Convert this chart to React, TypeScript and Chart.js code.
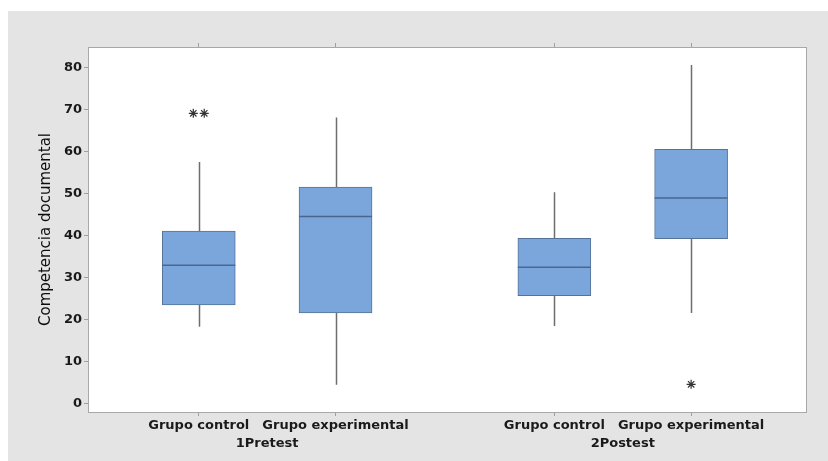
import React, { useEffect, useRef } from 'react';
import { Chart, registerables } from 'chart.js';

Chart.register(...registerables);

// ---- data ----
const categories = ['Grupo control', 'Grupo experimental', 'Grupo control', 'Grupo experimental'];
const groups = ['1Pretest', '2Postest'];
const groupOf = [0, 0, 1, 1];
const xPositions = [1, 2, 3.6, 4.6];
const whiskerLow = [18.3, 4.5, 18.5, 21.6];
const q1 = [23.5, 21.6, 25.7, 39.3];
const median = [33, 44.6, 32.5, 49];
const q3 = [41.1, 51.6, 39.4, 60.6];
const whiskerHigh = [57.6, 68.2, 50.4, 80.7];
// outliers: box index, value, small side offset for tied values
const outlierBox = [0, 0, 3];
const outlierValue = [69.2, 69.2, 4.6];
const outlierShift = [-0.04, 0.04, 0];
const yTicks = [0, 10, 20, 30, 40, 50, 60, 70, 80];
const yMin = -2;
const yMax = 85;
const xMin = 0.19;
const xMax = 5.44;

const FONT = 'DejaVu Sans';

const boxPlugin = {
  id: 'boxParts',
  beforeDraw(chart: any) {
    const { ctx, chartArea: a, width, height } = chart;
    ctx.save();
    ctx.fillStyle = '#e4e4e4';
    ctx.fillRect(0, 0, width, height);
    ctx.fillStyle = '#ffffff';
    ctx.fillRect(a.left, a.top, a.right - a.left, a.bottom - a.top);
    ctx.restore();
  },
  beforeDatasetsDraw(chart: any) {
    const { ctx } = chart;
    const xs = chart.scales.x;
    const ys = chart.scales.y;
    ctx.save();
    ctx.strokeStyle = '#6e6e6e';
    ctx.lineWidth = 1.5;
    xPositions.forEach((p, i) => {
      const x = Math.round(xs.getPixelForValue(p)) + 0.5;
      ctx.beginPath();
      ctx.moveTo(x, ys.getPixelForValue(q3[i]));
      ctx.lineTo(x, ys.getPixelForValue(whiskerHigh[i]));
      ctx.moveTo(x, ys.getPixelForValue(q1[i]));
      ctx.lineTo(x, ys.getPixelForValue(whiskerLow[i]));
      ctx.stroke();
    });
    ctx.restore();
  },
  afterDatasetsDraw(chart: any) {
    const { ctx, chartArea: a } = chart;
    const xs = chart.scales.x;
    const ys = chart.scales.y;
    const meta = chart.getDatasetMeta(0);
    ctx.save();
    ctx.strokeStyle = '#4b668f';
    ctx.lineWidth = 1.5;
    xPositions.forEach((p, i) => {
      const bar = meta.data[i];
      const half = bar.width / 2;
      const cx = xs.getPixelForValue(p);
      const y = ys.getPixelForValue(median[i]);
      ctx.beginPath();
      ctx.moveTo(cx - half, y);
      ctx.lineTo(cx + half, y);
      ctx.stroke();
    });
    ctx.strokeStyle = '#a8a8a8';
    ctx.lineWidth = 1;
    ctx.strokeRect(Math.round(a.left) + 0.5, Math.round(a.top) + 0.5, Math.round(a.right - a.left), Math.round(a.bottom - a.top));
    ctx.restore();
  },
};

const setTicks = (vals: number[]) => (scale: any) => {
  scale.ticks = vals.map((v) => ({ value: v }));
};

export default function App() {
  const ref = useRef<HTMLCanvasElement>(null);
  useEffect(() => {
    if (!ref.current) return;
    const groupCenters = groups.map((_, g) => {
      const ps = xPositions.filter((__, i) => groupOf[i] === g);
      return (Math.min(...ps) + Math.max(...ps)) / 2;
    });
    const gridOpts = { drawOnChartArea: false, drawTicks: true, tickLength: 4, color: '#a0a0a0', offset: false };
    const chart = new Chart(ref.current, {
      type: 'bar',
      data: {
        datasets: [
          {
            type: 'bar',
            data: xPositions.map((p, i) => ({ x: p, y: [q1[i], q3[i]] })) as any,
            backgroundColor: '#7aa6dc',
            borderColor: '#557399',
            borderWidth: 1,
            borderSkipped: false,
            barThickness: 73,
          } as any,
          {
            type: 'scatter',
            data: outlierValue.map((v, k) => ({ x: xPositions[outlierBox[k]] + outlierShift[k], y: v })),
            pointStyle: 'star',
            radius: 4.5,
            borderColor: '#333333',
            backgroundColor: '#333333',
            borderWidth: 1.2,
          } as any,
        ],
      },
      options: {
        responsive: false,
        animation: false,
        devicePixelRatio: 1,
        layout: { padding: { left: 0, top: 32, right: 22, bottom: 0 } },
        plugins: { legend: { display: false }, tooltip: { enabled: false } },
        scales: {
          x: {
            type: 'linear',
            position: 'bottom',
            offset: false,
            min: xMin,
            max: xMax,
            afterBuildTicks: setTicks(xPositions),
            afterFit: (s: any) => { s.height = 22; },
            grid: gridOpts,
            border: { display: false },
            ticks: {
              callback: (_v: any, i: number) => categories[i],
              font: { family: FONT, weight: 'bold', size: 13 },
              color: '#1a1a1a',
              padding: 2,
              maxRotation: 0,
              autoSkip: false,
            },
          },
          x2: {
            type: 'linear',
            position: 'bottom',
            offset: false,
            min: xMin,
            max: xMax,
            afterBuildTicks: setTicks(groupCenters),
            afterFit: (s: any) => { s.height = 27; },
            grid: { display: false, drawTicks: false, offset: false },
            border: { display: false },
            ticks: {
              callback: (_v: any, i: number) => groups[i],
              font: { family: FONT, weight: 'bold', size: 13 },
              color: '#1a1a1a',
              padding: 2,
              maxRotation: 0,
              autoSkip: false,
            },
          },
          xTop: {
            type: 'linear',
            position: 'top',
            offset: false,
            min: xMin,
            max: xMax,
            afterBuildTicks: setTicks(xPositions),
            afterFit: (s: any) => { s.height = 4; },
            grid: gridOpts,
            border: { display: false },
            ticks: { display: false },
          },
          y: {
            type: 'linear',
            min: yMin,
            max: yMax,
            afterBuildTicks: setTicks(yTicks),
            afterFit: (s: any) => { s.width = 80; },
            grid: gridOpts,
            border: { display: false },
            ticks: {
              font: { family: FONT, weight: 'bold', size: 13 },
              color: '#1a1a1a',
              padding: 2,
            },
            title: {
              display: true,
              text: 'Competencia documental',
              font: { family: FONT, size: 15 },
              color: '#0d0d0d',
              padding: { top: 29, bottom: 0 },
            },
          },
        },
      } as any,
      plugins: [boxPlugin],
    });
    return () => chart.destroy();
  }, []);
  return (
    <div style={{ position: 'fixed', left: 8, top: 11, width: 820, height: 450 }}>
      <canvas ref={ref} width={820} height={450} style={{ display: 'block', width: 820, height: 450 }} />
    </div>
  );
}
